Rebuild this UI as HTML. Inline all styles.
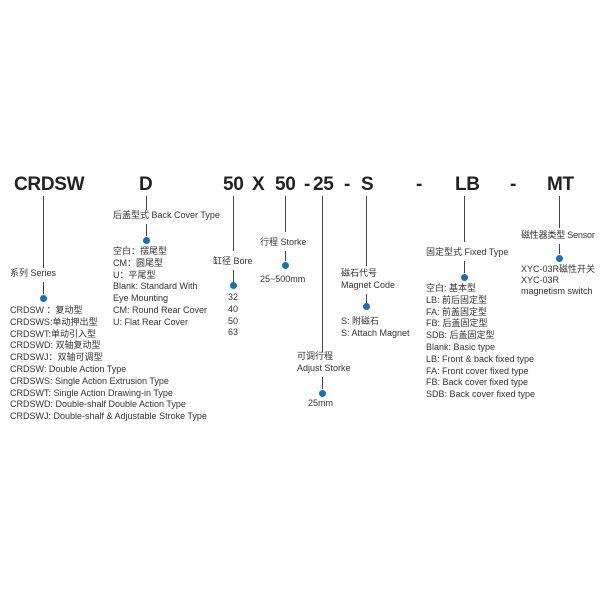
<!DOCTYPE html>
<html><head><meta charset="utf-8"><style>
body{margin:0;width:600px;height:600px;background:#fff;position:relative;overflow:hidden;font-family:"Liberation Sans","Noto Sans CJK SC",sans-serif;color:#333}
.h{position:absolute;top:173px;font-size:19px;font-weight:bold;color:#222;line-height:24px;letter-spacing:-0.3px}
.l{position:absolute;width:1px;background:#444}
.d{position:absolute;width:7px;height:7px;border-radius:50%;background:#1a6fb5}
.t{position:absolute;font-size:9px;line-height:11.8px;white-space:nowrap;color:#333}
</style></head><body>
<div class="h" style="left:14px">CRDSW</div>
<div class="h" style="left:139px">D</div>
<div class="h" style="left:223px">50</div>
<div class="h" style="left:252px">X</div>
<div class="h" style="left:275px">50</div>
<div class="h" style="left:304px">-</div>
<div class="h" style="left:313px">25</div>
<div class="h" style="left:344px">-</div>
<div class="h" style="left:361px">S</div>
<div class="h" style="left:416px">-</div>
<div class="h" style="left:455px">LB</div>
<div class="h" style="left:510px">-</div>
<div class="h" style="left:547px">MT</div>

<div class="l" style="left:43px;top:196px;height:72px"></div>
<div class="t" style="left:10px;top:268px">系列 Series</div>
<div class="l" style="left:43px;top:282px;height:12px"></div>
<div class="d" style="left:40px;top:295px"></div>
<div class="t" style="left:10px;top:305px">CRDSW ：复动型<br>CRDSWS:单动押出型<br>CRDSWT:单动引入型<br>CRDSWD: 双轴复动型<br>CRDSWJ：双轴可调型<br>CRDSW: Double Action Type<br>CRDSWS: Single Action Extrusion Type<br>CRDSWT: Single Action Drawing-in Type<br>CRDSWD: Double-shalf Double Action Type<br>CRDSWJ: Double-shalf &amp; Adjustable Stroke Type</div>

<div class="l" style="left:146px;top:196px;height:14px"></div>
<div class="t" style="left:113px;top:210px">后盖型式 Back Cover Type</div>
<div class="l" style="left:146px;top:224px;height:12px"></div>
<div class="d" style="left:143px;top:237px"></div>
<div class="t" style="left:113px;top:246px">空白：摆尾型<br>CM：圆尾型<br>U：平尾型<br>Blank: Standard With<br>Eye Mounting<br>CM: Round Rear Cover<br>U: Flat Rear Cover</div>

<div class="l" style="left:233px;top:196px;height:55px"></div>
<div class="t" style="left:213px;top:256px">缸径 Bore</div>
<div class="l" style="left:233px;top:270px;height:12px"></div>
<div class="d" style="left:230px;top:282px"></div>
<div class="t" style="left:228px;top:292px">32<br>40<br>50<br>63</div>

<div class="l" style="left:285px;top:196px;height:36px"></div>
<div class="t" style="left:260px;top:237px">行程 Storke</div>
<div class="l" style="left:285px;top:251px;height:10px"></div>
<div class="d" style="left:282px;top:262px"></div>
<div class="t" style="left:260px;top:274px">25~500mm</div>

<div class="l" style="left:322px;top:196px;height:156px"></div>
<div class="t" style="left:297px;top:351px">可调行程<br>Adjust Storke</div>
<div class="l" style="left:322px;top:377px;height:12px"></div>
<div class="d" style="left:319px;top:390px"></div>
<div class="t" style="left:308px;top:398px">25mm</div>

<div class="l" style="left:366px;top:196px;height:70px"></div>
<div class="t" style="left:341px;top:268px">磁石代号<br>Magnet Code</div>
<div class="l" style="left:366px;top:294px;height:10px"></div>
<div class="d" style="left:363px;top:303px"></div>
<div class="t" style="left:341px;top:316px">S: 附磁石<br>S: Attach Magnet</div>

<div class="l" style="left:464px;top:196px;height:46px"></div>
<div class="t" style="left:426px;top:247px">固定型式 Fixed Type</div>
<div class="l" style="left:464px;top:261px;height:12px"></div>
<div class="d" style="left:461px;top:274px"></div>
<div class="t" style="left:426px;top:283px">空白: 基本型<br>LB: 前后固定型<br>FA: 前盖固定型<br>FB: 后盖固定型<br>SDB: 后盖固定型<br>Blank: Basic type<br>LB: Front &amp; back fixed type<br>FA: Front cover fixed type<br>FB:  Back cover fixed type<br>SDB: Back cover fixed type</div>

<div class="l" style="left:559px;top:196px;height:32px"></div>
<div class="t" style="left:521px;top:230px;letter-spacing:-0.2px">磁性器类型 Sensor</div>
<div class="l" style="left:559px;top:244px;height:10px"></div>
<div class="d" style="left:556px;top:255px"></div>
<div class="t" style="left:521px;top:264px;line-height:11px">XYC-03R磁性开关<br>XYC-03R<br>magnetism switch</div>
</body></html>
